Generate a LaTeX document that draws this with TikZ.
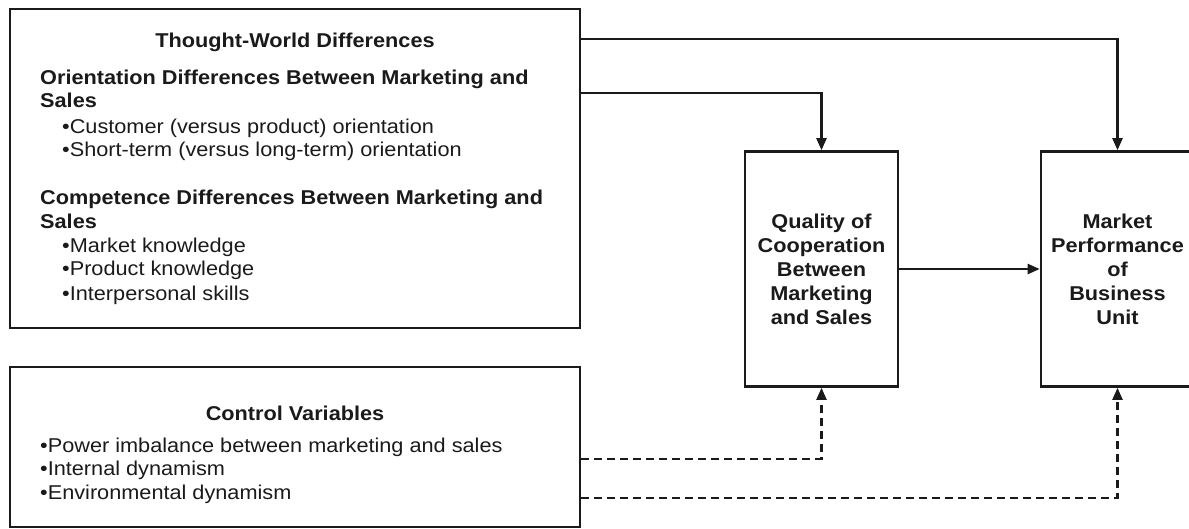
\documentclass[tikz,border=0pt]{standalone}
\usepackage{fontspec}
\setmainfont[FakeStretch=1.085]{Liberation Sans}
\usetikzlibrary{arrows.meta}
\definecolor{ink}{HTML}{1A1A1A}
\tikzset{
  box/.style={draw=ink, line width=2.6pt, rectangle, inner sep=0pt, align=center, text=ink,
    font=\fontsize{20}{24}\selectfont\bfseries},
  hd/.style={anchor=base west, inner sep=0pt, text=ink, font=\fontsize{20}{23.5}\selectfont\bfseries},
  it/.style={anchor=base west, inner sep=0pt, text=ink, font=\fontsize{20}{23.5}\selectfont},
  arr/.style={draw=ink, line width=2.2pt, -{Triangle[length=12pt,width=10pt]}},
  darr/.style={arr, dash pattern=on 8pt off 5pt},
}
\begin{document}
\begin{tikzpicture}[x=1pt,y=-1pt]
\useasboundingbox (0,0) rectangle (1189,528);
\clip (0,0) rectangle (1189,528);
% boxes
\node[box, minimum width=570pt, minimum height=319pt] (tw) at (295,168.5) {};
\node[box, minimum width=570pt, minimum height=160pt] (cv) at (295,447) {};
\node[box, minimum width=153pt, minimum height=235pt] (qc) at (821.5,269)
  {Quality of\\Cooperation\\Between\\Marketing\\and Sales};
\node[box, minimum width=153pt, minimum height=235pt] (mp) at (1117.5,269)
  {Market\\Performance\\of\\Business\\Unit};
% texts in top box
\node[hd, anchor=base] (t0) at (295,47) {Thought-World Differences};
\node[hd] (t1) at (40,84) {Orientation Differences Between Marketing and};
\node[hd] (t2) at (40,107.5) {Sales};
\node[it] (t3) at (62,133) {•Customer (versus product) orientation};
\node[it] (t4) at (62,156) {•Short-term (versus long-term) orientation};
\node[hd] (t5) at (40,204) {Competence Differences Between Marketing and};
\node[hd] (t6) at (40,228) {Sales};
\node[it] (t7) at (62,252) {•Market knowledge};
\node[it] (t8) at (62,275) {•Product knowledge};
\node[it] (t9) at (62,300) {•Interpersonal skills};
% texts in bottom box
\node[hd, anchor=base] (c0) at (295,420) {Control Variables};
\node[it] (c1) at (40,452) {•Power imbalance between marketing and sales};
\node[it] (c2) at (40,475) {•Internal dynamism};
\node[it] (c3) at (40,499) {•Environmental dynamism};
% connector start points
\coordinate (s1) at (tw.east |- 0,39);
\coordinate (s2) at (tw.east |- 0,93);
\coordinate (s3) at (cv.east |- 0,459);
\coordinate (s4) at (cv.east |- 0,498);
\draw[arr] (s1) -| (mp.north);
\draw[arr] (s2) -| (qc.north);
\draw[arr] (qc.east) -- (mp.west);
\draw[darr] (s3) -| (qc.south);
\draw[darr] (s4) -| (mp.south);
\end{tikzpicture}
\end{document}
